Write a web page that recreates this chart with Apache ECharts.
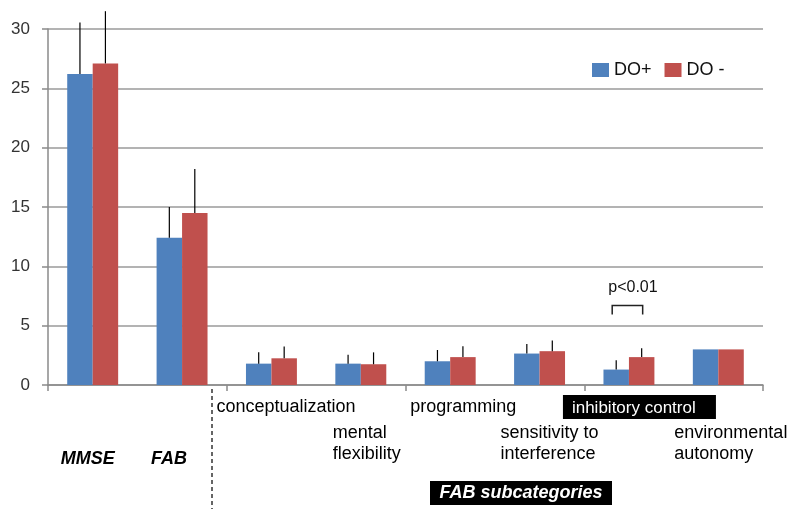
<!DOCTYPE html>
<html><head><meta charset="utf-8">
<script src="https://cdn.jsdelivr.net/npm/echarts@6/dist/echarts.min.js"></script>
<style>html,body{margin:0;padding:0;background:#fff}#c{width:796px;height:511px}</style>
</head><body><div id="c"></div>
<script>
var categories = ['MMSE','FAB','conceptualization','mental\nflexibility','programming','sensitivity to\ninterference','inhibitory control','environmental\nautonomy'];
var seriesNames = ['DO+','DO -'];
var doPlus = [26.2, 12.4, 1.8, 1.8, 2.0, 2.65, 1.3, 3.0];
var doMinus = [27.1, 14.5, 2.25, 1.75, 2.35, 2.85, 2.35, 3.0];
var errPlus = [4.35, 2.6, 0.95, 0.75, 0.95, 0.8, 0.78, 0];
var errMinus = [4.4, 3.7, 1.0, 1.0, 0.92, 0.9, 0.75, 0];
var yTicks = [0, 5, 10, 15, 20, 25, 30];
var sigText = 'p<0.01';
var sigCategory = 6;
var sigBracket = [6.7, 5.95, 8.3];
var groupTitle = 'FAB subcategories';

// layout of the category labels (offset of left edge from category centre, row)
var labelDx = [-32, -31, -55, -28, -40, -39, -57, -44];
var labelRow = [2, 2, 0, 1, 0, 1, 0, 1];
var labelStyle = ['bi', 'bi', 'n', 'n', 'n', 'n', 'box', 'n'];

var blue = '#4F81BD', red = '#C0504D';
var BARW = 0.285;

var chart = echarts.init(document.getElementById('c'));

var errData = [];
categories.forEach(function (c, i) {
  if (errPlus[i] > 0) errData.push([i, doPlus[i], errPlus[i], -1]);
  if (errMinus[i] > 0) errData.push([i, doMinus[i], errMinus[i], 1]);
});

var option = {
  animation: false,
  grid: { left: 48, right: 33, top: 29, bottom: 126, containLabel: false },
  legend: {
    data: seriesNames, left: 587, top: 56, itemWidth: 17, itemHeight: 14, itemGap: 13,
    textStyle: { fontFamily: 'Liberation Sans', fontSize: 18, color: '#111' },
    icon: 'rect'
  },
  xAxis: {
    type: 'category', data: categories,
    axisLine: { lineStyle: { color: '#8a8a8a', width: 1.5 } },
    axisTick: { show: true, length: 6, lineStyle: { color: '#8a8a8a', width: 1.5 } },
    axisLabel: { show: false },
    splitLine: { show: false }
  },
  yAxis: {
    type: 'value', min: 0, max: 30, interval: 5,
    axisLine: { show: true, lineStyle: { color: '#8a8a8a', width: 1.5 } },
    axisTick: { show: true, length: 6, lineStyle: { color: '#8a8a8a', width: 1.5 } },
    axisLabel: { margin: 18, fontFamily: 'Liberation Sans', fontSize: 17, color: '#333',
      formatter: function (v) { return yTicks.indexOf(v) >= 0 ? String(v) : ''; } },
    splitLine: { lineStyle: { color: '#9a9a9a', width: 1.5 } }
  },
  series: [
    { name: seriesNames[0], type: 'bar', data: doPlus, barWidth: (BARW * 100) + '%', barGap: '0%',
      itemStyle: { color: blue } },
    { name: seriesNames[1], type: 'bar', data: doMinus, barWidth: (BARW * 100) + '%', barGap: '0%',
      itemStyle: { color: red } },
    { type: 'custom', name: 'err', data: errData, clip: false, z: 5,
      encode: { x: 0, y: 1 },
      renderItem: function (params, api) {
        var i = api.value(0), v = api.value(1), e = api.value(2), side = api.value(3);
        var base = api.coord([i, v]);
        var top = api.coord([i, v + e]);
        var bw = api.size([1, 0])[0] * BARW;
        var x = base[0] + side * bw / 2;
        return { type: 'line', shape: { x1: x, y1: base[1], x2: x, y2: top[1] },
          style: { stroke: '#000', lineWidth: 1.2 } };
      }
    },
    { type: 'custom', name: 'sig', data: [[sigCategory, sigBracket[0], sigBracket[1], sigBracket[2]]], clip: false, z: 5,
      encode: { x: 0, y: 1 },
      renderItem: function (params, api) {
        var i = api.value(0);
        var c = api.coord([i, api.value(1)]);
        var b = api.coord([i, api.value(2)]);
        var t = api.coord([i, api.value(3)]);
        var bw = api.size([1, 0])[0] * BARW;
        var x1 = c[0] - bw / 2 - 4, x2 = c[0] + bw / 2 + 1;
        return { type: 'group', children: [
          { type: 'polyline', shape: { points: [[x1, b[1]], [x1, c[1]], [x2, c[1]], [x2, b[1]]] },
            style: { stroke: '#222', lineWidth: 1.5, fill: null } },
          { type: 'text', style: { text: sigText, x: c[0] + 4, y: t[1] + 1, align: 'center', verticalAlign: 'middle',
            fontFamily: 'Liberation Sans', fontSize: 16, fill: '#111' } }
        ] };
      }
    }
  ]
};
chart.setOption(option);

function drawLabels() {
  var g = [];
  var rowY = [408, 434, 459];
  categories.forEach(function (c, i) {
    var p = chart.convertToPixel({ xAxisIndex: 0 }, i);
    var x = p + labelDx[i];
    var y = rowY[labelRow[i]];
    var st = labelStyle[i];
    if (st === 'box') {
      g.push({ type: 'rect', shape: { x: x - 9, y: y - 13, width: 153, height: 24 }, style: { fill: '#000' } });
      g.push({ type: 'text', style: { text: c, x: x, y: y, verticalAlign: 'middle', fontFamily: 'Liberation Sans', fontSize: 17, fill: '#fff' } });
    } else if (st === 'bi') {
      g.push({ type: 'text', style: { text: c, x: x, y: y, verticalAlign: 'middle', fontFamily: 'Liberation Sans', fontSize: 18, fontWeight: 'bold', fontStyle: 'italic', fill: '#000' } });
    } else {
      g.push({ type: 'text', style: { text: c, x: x, y: y - 11, verticalAlign: 'top', lineHeight: 21, fontFamily: 'Liberation Sans', fontSize: 18, fill: '#000' } });
    }
  });
  // group title
  g.push({ type: 'rect', shape: { x: 430, y: 481, width: 182, height: 24 }, style: { fill: '#000' } });
  g.push({ type: 'text', style: { text: groupTitle, x: 521, y: 493, align: 'center', verticalAlign: 'middle', fontFamily: 'Liberation Sans', fontSize: 18, fontWeight: 'bold', fontStyle: 'italic', fill: '#fff' } });
  // dashed separator
  g.push({ type: 'line', shape: { x1: 212, y1: 389, x2: 212, y2: 509 }, style: { stroke: '#333', lineWidth: 1.5, lineDash: [4, 3] } });
  chart.setOption({ graphic: g });
}
drawLabels();
</script></body></html>
